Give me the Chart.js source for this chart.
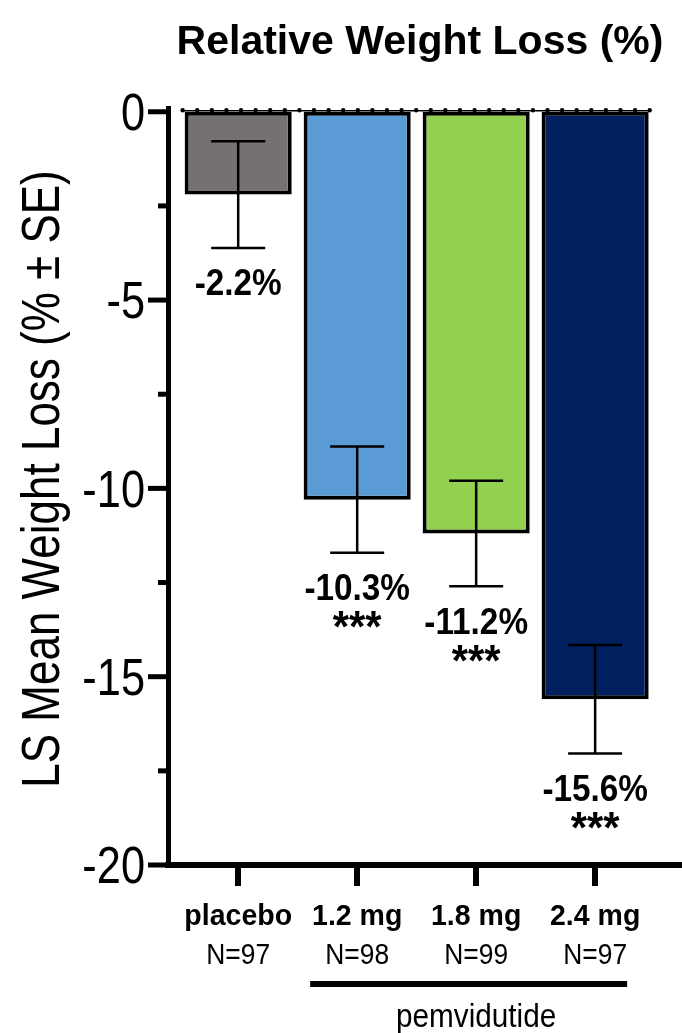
<!DOCTYPE html>
<html>
<head>
<meta charset="utf-8">
<script src="https://cdn.jsdelivr.net/npm/chart.js@4.4.1/dist/chart.umd.min.js"></script>
<style>
  html, body { margin: 0; padding: 0; background: #fff; }
  #wrap { width: 682px; height: 1033px; position: relative; }
</style>
</head>
<body>
<div id="wrap"><canvas id="c"></canvas></div>
<script>
// ---- data ----
const categories = ['placebo', '1.2 mg', '1.8 mg', '2.4 mg'];
const sampleSizes = ['N=97', 'N=98', 'N=99', 'N=97'];
const meanLoss = [-2.2, -10.3, -11.2, -15.6];
const seValues = [1.42, 1.41, 1.40, 1.44];
const valueLabels = ['-2.2%', '-10.3%', '-11.2%', '-15.6%'];
const significance = ['', '***', '***', '***'];
const barColors = ['#767171', '#5b9bd5', '#92d050', '#002060'];
const yMajorTicks = [0, -5, -10, -15, -20];
const yMinorTicks = [-2.5, -7.5, -12.5, -17.5];
const titleText = 'Relative Weight Loss (%)';
const yAxisTitle = 'LS Mean Weight Loss (% \u00b1 SE)';
const groupLabel = 'pemvidutide';

const FONT = "'Liberation Sans', Arial, sans-serif";

// draw horizontally condensed text (mimics Arial Narrow)
function ntext(ctx, text, x, y, sx, align) {
  ctx.save();
  ctx.translate(x, y);
  ctx.scale(sx, 1);
  ctx.textAlign = align || 'center';
  ctx.textBaseline = 'alphabetic';
  ctx.fillText(text, 0, 0);
  ctx.restore();
}

const annotate = {
  id: 'annotate',
  afterDatasetsDraw(chart) {
    const ctx = chart.ctx;
    const xs = chart.scales.x, ys = chart.scales.y;
    const meta = chart.getDatasetMeta(0);
    // dotted zero line
    const first = meta.data[0], last = meta.data[meta.data.length - 1];
    const x0 = first.x - first.width / 2 - 2;
    const x1 = last.x + last.width / 2 + 1;
    const y0 = ys.getPixelForValue(0);
    ctx.save();
    ctx.strokeStyle = '#000';
    ctx.lineWidth = 1.5;
    ctx.beginPath(); ctx.moveTo(x0, y0 - 1); ctx.lineTo(x1, y0 - 1); ctx.stroke();
    ctx.fillStyle = '#000';
    const n = Math.round((x1 - x0) / 14.5);
    const step = (x1 - x0) / n;
    for (let i = 0; i <= n; i++) {
      ctx.beginPath(); ctx.arc(x0 + i * step, y0 - 1.5, 2.2, 0, Math.PI * 2); ctx.fill();
    }
    // error bars
    ctx.lineWidth = 2.5;
    meanLoss.forEach((v, i) => {
      const cx = xs.getPixelForValue(i);
      const top = ys.getPixelForValue(v + seValues[i]);
      const bot = ys.getPixelForValue(v - seValues[i]);
      ctx.beginPath();
      ctx.moveTo(cx, top); ctx.lineTo(cx, bot);
      ctx.moveTo(cx - 27, top); ctx.lineTo(cx + 27, top);
      ctx.moveTo(cx - 27, bot); ctx.lineTo(cx + 27, bot);
      ctx.stroke();
      // value labels
      ctx.font = 'bold 37px ' + FONT;
      ntext(ctx, valueLabels[i], cx, bot + 34 + 0.358 * 37, 0.9);
      if (significance[i]) {
        ctx.font = 'bold 44px ' + FONT;
        ntext(ctx, significance[i], cx, bot + 64 + 0.58 * 44, 0.95);
      }
    });
    ctx.restore();
  },
  afterDraw(chart) {
    const ctx = chart.ctx;
    const xs = chart.scales.x, ys = chart.scales.y;
    const left = chart.chartArea.left;
    ctx.save();
    ctx.fillStyle = '#000';
    ctx.strokeStyle = '#000';
    // y ticks
    ctx.lineWidth = 5;
    yMajorTicks.forEach(v => {
      const y = ys.getPixelForValue(v);
      ctx.beginPath(); ctx.moveTo(left - 20, y); ctx.lineTo(left, y); ctx.stroke();
    });
    yMinorTicks.forEach(v => {
      const y = ys.getPixelForValue(v);
      ctx.beginPath(); ctx.moveTo(left - 10, y); ctx.lineTo(left, y); ctx.stroke();
    });
    ctx.font = '51px ' + FONT;
    yMajorTicks.forEach(v => {
      const y = ys.getPixelForValue(v);
      ntext(ctx, String(v), left - 23, y + 0.358 * 51, 0.85, 'right');
    });
    // y title
    ctx.save();
    ctx.translate(40 + 0.358 * 53, (ys.getPixelForValue(-1.5) + ys.getPixelForValue(-18)) / 2);
    ctx.rotate(-Math.PI / 2);
    ctx.font = '53px ' + FONT;
    ntext(ctx, yAxisTitle, 0, 0, 0.83);
    ctx.restore();
    // title
    ctx.font = 'bold 41px ' + FONT;
    ntext(ctx, titleText, 420, 54, 1.0);
    // x labels
    categories.forEach((c, i) => {
      const cx = xs.getPixelForValue(i);
      ctx.font = 'bold 30px ' + FONT;
      ntext(ctx, c, cx, 925, 0.95);
      ctx.font = '30px ' + FONT;
      ntext(ctx, sampleSizes[i], cx, 964, 0.88);
    });
    // pemvidutide bracket
    const bx0 = xs.getPixelForValue(1) - 47;
    const bx1 = xs.getPixelForValue(3) + 32;
    ctx.lineWidth = 6;
    ctx.beginPath(); ctx.moveTo(bx0, 984); ctx.lineTo(bx1, 984); ctx.stroke();
    ctx.font = '33px ' + FONT;
    ntext(ctx, groupLabel, xs.getPixelForValue(2), 1027, 0.9);
    ctx.restore();
  }
};

new Chart(document.getElementById('c'), {
  type: 'bar',
  data: {
    datasets: [{
      data: meanLoss.map((v, i) => ({ x: i, y: v })),
      backgroundColor: barColors,
      borderColor: '#000',
      borderWidth: 4,
      borderSkipped: false,
      barPercentage: 0.9,
      categoryPercentage: 1.0
    }]
  },
  options: {
    responsive: true,
    maintainAspectRatio: false,
    animation: false,
    layout: { padding: { top: 108, left: 0, right: 0, bottom: 0 } },
    plugins: { legend: { display: false }, title: { display: false }, tooltip: { enabled: false } },
    scales: {
      x: {
        type: 'linear',
        min: -0.59,
        max: 3.73,
        offset: false,
        afterBuildTicks: s => { s.ticks = categories.map((_, i) => ({ value: i })); },
        afterFit: s => { s.height = 168; },
        ticks: { display: false },
        grid: { display: true, offset: false, drawOnChartArea: false, drawTicks: true, tickLength: 21, lineWidth: 6, color: '#000' },
        border: { display: true, width: 6, color: '#000' }
      },
      y: {
        min: -20,
        max: 0.1,
        afterFit: s => { s.width = 168; },
        ticks: { display: false },
        grid: { display: false },
        border: { display: true, width: 5, color: '#000' }
      }
    }
  },
  plugins: [annotate]
});
</script>
</body>
</html>
